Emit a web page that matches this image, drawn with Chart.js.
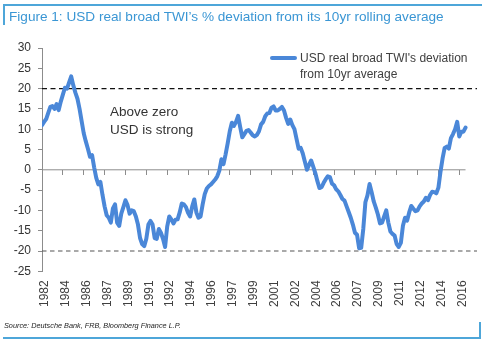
<!DOCTYPE html>
<html>
<head>
<meta charset="utf-8">
<script src="https://cdn.jsdelivr.net/npm/chart.js@4"></script>
<style>
  html, body { margin: 0; padding: 0; background: #fff; }
  #wrap { position: relative; width: 488px; height: 343px; overflow: hidden; font-family: "Liberation Sans", Arial, sans-serif; }
  #chart { position: absolute; left: 0; top: 0; }
  .rule { position: absolute; background: #4ea6d9; }
  #title { position: absolute; left: 9px; top: 9px; font-size: 13.6px; line-height: 15px; color: #3a96d4; white-space: nowrap; }
  #source { position: absolute; left: 4px; top: 321px; font-size: 7.3px; line-height: 10px; font-style: italic; color: #222; white-space: nowrap; }
  #legend { position: absolute; left: 270px; top: 50px; }
  #legend .swatch { position: absolute; left: 0; top: 6px; width: 27px; height: 4px; border-radius: 2px; }
  #legend .text { position: absolute; left: 30px; top: 0; font-size: 12px; line-height: 16px; color: #404040; white-space: nowrap; }
  #note { position: absolute; left: 110px; top: 103px; font-size: 13.5px; line-height: 18px; color: #333; white-space: nowrap; }
</style>
</head>
<body>
<div id="wrap">
  <canvas id="chart" width="488" height="343"></canvas>
  <div class="rule" style="left:3px;top:4px;width:479px;height:2px;"></div>
  <div class="rule" style="left:3px;top:4px;width:2px;height:21px;"></div>
  <div id="title">Figure 1: USD real broad TWI’s % deviation from its 10yr rolling average</div>
  <div id="legend"><div class="swatch"></div><div class="text">USD real broad TWI's deviation<br>from 10yr average</div></div>
  <div id="note">Above zero<br>USD is strong</div>
  <div id="source">Source: Deutsche Bank, FRB, Bloomberg Finance L.P.</div>
  <div class="rule" style="left:3px;top:337px;width:478px;height:2px;"></div>
  <div class="rule" style="left:479px;top:322px;width:2px;height:17px;"></div>
</div>
<script>
// Year labels shown every 20 months along the time axis (one label per 10 periods)
const tickYears = ['1982', '1984', '1986', '1987', '1989', '1991', '1992', '1994', '1996', '1997',
                   '1999', '2001', '2002', '2004', '2006', '2007', '2009', '2011', '2012', '2014', '2016'];

// % deviation of the USD real broad TWI from its 10yr rolling average,
// one value every two months from late 1982 to 2016
const deviation = [
  11.0, 11.8, 12.5, 14.0, 15.5, 15.7, 15.0, 16.2, 14.7, 16.8,
  18.5, 20.2, 20.0, 21.5, 23.0, 20.8, 19.0, 17.5, 15.0, 12.0,
  9.0, 7.0, 5.2, 3.2, 3.6, 0.6, -2.0, -3.6, -3.0, -6.2,
  -9.0, -11.2, -11.8, -13.0, -9.5, -8.5, -13.0, -13.8, -10.8, -9.2,
  -7.5, -8.7, -10.8, -10.0, -10.2, -11.5, -13.5, -16.8, -18.3, -18.8,
  -17.0, -13.5, -12.6, -13.5, -16.8, -17.0, -14.6, -15.5, -17.0, -19.0,
  -14.0, -11.5, -12.2, -13.2, -12.3, -12.2, -10.5, -8.3, -8.5, -9.2,
  -10.6, -11.5, -9.0, -7.3, -10.5, -11.8, -11.5, -8.5, -6.0, -4.6,
  -4.0, -3.6, -3.0, -2.4, -1.6, -0.2, 2.6, 1.4, 3.8, 6.5,
  9.5, 11.6, 10.8, 11.8, 13.3, 10.5, 8.0, 8.8, 9.6, 9.8,
  9.2, 8.5, 8.2, 8.6, 9.5, 11.2, 11.8, 13.2, 13.9, 14.0,
  15.3, 15.6, 14.6, 14.6, 15.0, 15.5, 14.6, 12.8, 11.3, 12.4,
  11.0, 10.0, 7.6, 5.2, 5.4, 4.0, 2.0, 0.0, 1.2, 2.3,
  0.8, -0.8, -2.8, -4.5, -4.3, -3.2, -2.3, -1.6, -1.8, -3.4,
  -3.8, -4.8, -5.3, -6.2, -7.2, -7.6, -9.0, -10.4, -11.8, -13.5,
  -15.5, -16.0, -19.3, -19.2, -14.5, -8.0, -6.3, -3.5, -5.5, -7.8,
  -9.3, -11.0, -13.2, -13.0, -11.5, -10.0, -13.0, -15.2, -15.8, -16.2,
  -18.3, -19.0, -18.0, -13.8, -11.8, -12.5, -10.5, -8.9, -9.6, -10.2,
  -10.0, -9.0, -8.3, -7.8, -6.9, -7.5, -6.2, -5.4, -5.5, -5.8,
  -4.4, -0.5, 2.8, 5.4, 5.7, 5.2, 7.8, 8.8, 10.0, 11.8,
  8.2, 9.4, 9.4, 10.4
];

// Reference levels and value axis range
const upperBand = 20;
const lowerBand = -20;
const yMin = -25, yMax = 30, yStep = 5;

const periodsPerLabel = 10;
const xMax = 208.5;          // a little room after the last period for the reference lines
const lineBlue = '#4a87d8';
const axisGrey = '#8c8c8c';
const tickFont = { family: '"Liberation Sans", Arial, sans-serif', size: 12 };

document.querySelector('#legend .swatch').style.background = lineBlue;

const seriesPoints = deviation.map((v, i) => ({ x: i, y: v }));
const lastPeriod = deviation.length - 1;

new Chart(document.getElementById('chart'), {
  type: 'line',
  data: {
    datasets: [
      {
        label: "USD real broad TWI's deviation from 10yr average",
        data: seriesPoints,
        borderColor: lineBlue,
        borderWidth: 4,
        borderJoinStyle: 'round',
        borderCapStyle: 'round',
        pointRadius: 0,
        tension: 0
      },
      {
        label: 'upper',
        data: [{ x: 0, y: upperBand }, { x: xMax, y: upperBand }],
        borderColor: '#111',
        borderWidth: 1.3,
        borderDash: [5, 3.5],
        pointRadius: 0
      },
      {
        label: 'lower',
        data: [{ x: 0, y: lowerBand }, { x: xMax, y: lowerBand }],
        borderColor: '#555',
        borderWidth: 1.2,
        borderDash: [4.5, 3.5],
        pointRadius: 0
      },
      {
        label: 'zero',
        data: [{ x: 0, y: 0 }, { x: lastPeriod, y: 0 }],
        borderColor: axisGrey,
        borderWidth: 1,
        pointRadius: 0
      }
    ]
  },
  options: {
    responsive: false,
    animation: false,
    layout: { padding: { left: 0, right: 11, top: 48, bottom: 27 } },
    plugins: { legend: { display: false }, tooltip: { enabled: false } },
    scales: {
      x: {
        type: 'linear',
        min: 0,
        max: xMax,
        position: 'bottom',
        grid: { display: false, drawTicks: false },
        border: { display: false },
        ticks: {
          stepSize: periodsPerLabel,
          includeBounds: false,
          autoSkip: false,
          minRotation: 90,
          maxRotation: 90,
          padding: 9,
          labelOffset: 3,
          font: tickFont,
          color: '#404040',
          callback: (v) => {
            const label = tickYears[v / periodsPerLabel];
            return label === undefined ? null : label;
          }
        }
      },
      xZero: {
        axis: 'x',
        type: 'linear',
        min: 0,
        max: xMax,
        position: { y: 0 },
        grid: { drawOnChartArea: false, drawTicks: true, tickLength: 5, color: axisGrey },
        border: { display: false },
        ticks: { display: false, stepSize: periodsPerLabel, includeBounds: false }
      },
      y: {
        min: yMin,
        max: yMax,
        ticks: { stepSize: yStep, padding: 7, font: tickFont, color: '#333' },
        grid: { drawOnChartArea: false, drawTicks: true, tickLength: 4, color: axisGrey },
        border: { color: axisGrey },
        afterFit: (scale) => { scale.width = 42; }
      }
    }
  }
});
</script>
</body>
</html>
